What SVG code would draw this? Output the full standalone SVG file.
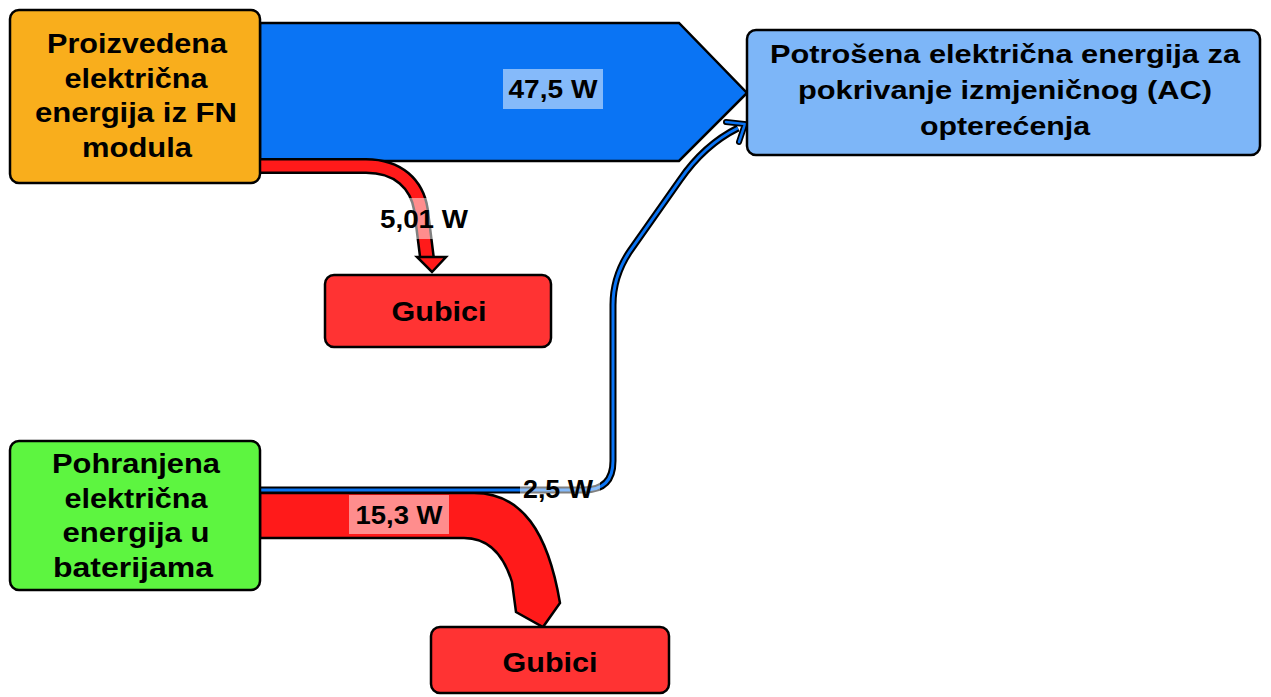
<svg xmlns="http://www.w3.org/2000/svg" width="1271" height="697" viewBox="0 0 1271 697">
<style>
.node{stroke:#000;stroke-width:2.5}
.t{font-family:"Liberation Sans",Arial,sans-serif;font-weight:bold;font-size:27px;fill:#000;text-anchor:middle}
.lbl{font-family:"Liberation Sans",Arial,sans-serif;font-weight:bold;font-size:26px;fill:#000;text-anchor:middle}
.lb{fill:#fff;fill-opacity:0.5}
.out{fill:none;stroke:#000;stroke-linejoin:round}
</style>
<rect width="1271" height="697" fill="#fff"/>
<g id="connectors">
  <g id="flow-47-5">
    <polygon points="260,23 679,23 747,93 679,161 260,161" fill="#0A74F4" stroke="#000" stroke-width="2.5" stroke-linejoin="miter"/>
    <rect class="lb" x="503" y="69" width="100" height="40"/>
    <text class="lbl" x="553" y="98" textLength="89" lengthAdjust="spacingAndGlyphs">47,5 W</text>
  </g>
  <g id="flow-5-01">
    <path class="out" d="M260,166 H366 C398,166 417,184 421,210 L427,258" stroke-width="16"/>
    <path d="M260,166 H366 C398,166 417,184 421,210 L427,258" fill="none" stroke="#FF1A1A" stroke-width="11"/>
    <polygon points="417,257 446,257 432,272" fill="#FF1A1A" stroke="#000" stroke-width="2.5" stroke-linejoin="miter"/>
    <rect class="lb" x="380" y="198" width="90" height="41"/>
    <text class="lbl" x="424" y="228" style="font-size:25px" textLength="88" lengthAdjust="spacingAndGlyphs">5,01 W</text>
  </g>
  <g id="flow-15-3">
    <path d="M260,493 H474 C522,493 548,532 560,603 L543,627 L516,612 L512,582 C504,556 490,538 464,538 H260 Z" fill="#FF1A1A" stroke="#000" stroke-width="2.5" stroke-linejoin="miter"/>
    <rect class="lb" x="349" y="495" width="100" height="39"/>
    <text class="lbl" x="399" y="524" textLength="87" lengthAdjust="spacingAndGlyphs">15,3 W</text>
  </g>
  <g id="flow-2-5">
    <path class="out" d="M260,490 H584 Q613,490 613,461 V305 Q613,276 630,251 L680,180 Q704,145 738,128" stroke-width="7"/>
    <path d="M260,490 H584 Q613,490 613,461 V305 Q613,276 630,251 L680,180 Q704,145 738,128" fill="none" stroke="#0A74F4" stroke-width="3"/>
    <polyline points="726,122 745,124 739,142" fill="none" stroke="#000" stroke-width="6" stroke-linejoin="miter" stroke-linecap="round"/>
    <polyline points="726,122 745,124 739,142" fill="none" stroke="#0A74F4" stroke-width="2.5" stroke-linejoin="miter" stroke-linecap="round"/>
    <rect class="lb" x="520" y="475" width="80" height="26"/>
    <text class="lbl" x="558" y="498" style="font-size:25px" textLength="70" lengthAdjust="spacingAndGlyphs">2,5 W</text>
  </g>
</g>
<g id="node-fn">
  <rect class="node" x="10" y="10" width="250" height="173" rx="9" fill="#F9AE1C"/>
  <text class="t" x="137" y="53" textLength="180" lengthAdjust="spacingAndGlyphs">Proizvedena</text>
  <text class="t" x="136" y="88" textLength="143" lengthAdjust="spacingAndGlyphs">električna</text>
  <text class="t" x="136" y="122" textLength="202" lengthAdjust="spacingAndGlyphs">energija iz FN</text>
  <text class="t" x="137" y="157" textLength="110" lengthAdjust="spacingAndGlyphs">modula</text>
</g>
<g id="node-ac">
  <rect class="node" x="747" y="30" width="513" height="125" rx="9" fill="#7DB6F8"/>
  <text class="t" x="1005" y="63" style="font-size:26px" textLength="470" lengthAdjust="spacingAndGlyphs">Potrošena električna energija za</text>
  <text class="t" x="1005" y="99" style="font-size:26px" textLength="414" lengthAdjust="spacingAndGlyphs">pokrivanje izmjeničnog (AC)</text>
  <text class="t" x="1005" y="135" style="font-size:26px" textLength="170" lengthAdjust="spacingAndGlyphs">opterećenja</text>
</g>
<g id="node-gubici1">
  <rect class="node" x="325" y="275" width="226" height="72" rx="9" fill="#FF3333"/>
  <text class="t" x="439" y="321" textLength="95" lengthAdjust="spacingAndGlyphs">Gubici</text>
</g>
<g id="node-bat">
  <rect class="node" x="10" y="441" width="250" height="149" rx="9" fill="#5DF540"/>
  <text class="t" x="136" y="473" textLength="168" lengthAdjust="spacingAndGlyphs">Pohranjena</text>
  <text class="t" x="136" y="508" textLength="143" lengthAdjust="spacingAndGlyphs">električna</text>
  <text class="t" x="136" y="542" textLength="147" lengthAdjust="spacingAndGlyphs">energija u</text>
  <text class="t" x="133" y="577" textLength="160" lengthAdjust="spacingAndGlyphs">baterijama</text>
</g>
<g id="node-gubici2">
  <rect class="node" x="431" y="627" width="238" height="66" rx="9" fill="#FF3333"/>
  <text class="t" x="550" y="672" textLength="95" lengthAdjust="spacingAndGlyphs">Gubici</text>
</g>
</svg>
